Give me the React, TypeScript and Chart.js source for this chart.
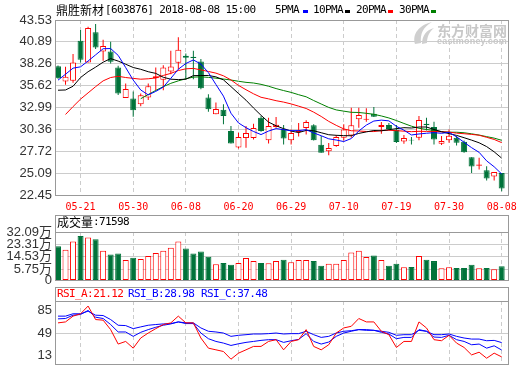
import React, { useEffect, useRef } from "react";
import { Chart, registerables } from "chart.js";

Chart.register(...registerables);

// ---------------- data ----------------
const DATES = [
  "05-16", "05-17", "05-18", "05-21", "05-22", "05-23", "05-24", "05-25", "05-28", "05-29",
  "05-30", "05-31", "06-01", "06-04", "06-05", "06-06", "06-07", "06-08", "06-11", "06-12",
  "06-13", "06-14", "06-15", "06-19", "06-20", "06-21", "06-22", "06-25", "06-26", "06-27",
  "06-28", "06-29", "07-02", "07-03", "07-04", "07-05", "07-06", "07-09", "07-10", "07-11",
  "07-12", "07-13", "07-16", "07-17", "07-18", "07-19", "07-20", "07-23", "07-24", "07-25",
  "07-26", "07-27", "07-30", "07-31", "08-01", "08-02", "08-03", "08-06", "08-07", "08-08",
];
const TICK_IDX = [3, 10, 17, 24, 31, 38, 45, 52, 59];

const OPEN = [
  37.97, 36.12, 36.2, 41.04, 38.42, 42.04, 39.75, 39.75, 37.81, 34.14,
  34.06, 33.38, 34.18, 36.52, 36.32, 37.33, 38.37, 39.22, 39.1, 38.54,
  34.18, 32.17, 32.73, 30.15, 28.18, 29.31, 29.31, 31.76, 29.06, 30.64,
  30.43, 29.06, 30.03, 30.51, 30.84, 28.5, 27.73, 28.34, 29.35, 29.63,
  31.56, 31.52, 32.25, 30.64, 30.88, 30.31, 28.9, 29.1, 29.35, 31.04,
  30.64, 28.62, 29.06, 29.35, 28.86, 27.01, 25.96, 25.44, 24.67, 25.11,
];
const HIGH = [
  38.05, 37.89, 39.42, 42.32, 42.73, 43.05, 41.16, 40.91, 38.01, 35.88,
  34.91, 34.67, 35.88, 37.81, 38.09, 39.83, 41.44, 39.5, 39.83, 38.82,
  34.59, 33.58, 33.38, 30.76, 29.95, 30.76, 31.04, 31.97, 31.76, 31.85,
  30.88, 30.35, 31.12, 31.44, 30.96, 29.55, 28.7, 29.67, 30.96, 32.97,
  32.97, 32.89, 33.05, 31.24, 31.12, 30.88, 29.67, 29.43, 31.97, 31.76,
  31.28, 29.55, 30.35, 29.55, 29.02, 27.01, 26.93, 25.92, 25.23, 25.11,
];
const LOW = [
  36.45, 35.72, 35.96, 38.42, 38.42, 40.03, 38.62, 38.29, 34.51, 34.14,
  31.89, 33.14, 33.9, 35.07, 35.07, 37.0, 37.61, 36.4, 36.4, 35.19,
  32.49, 32.17, 30.96, 28.66, 28.05, 28.14, 29.14, 30.07, 28.66, 30.56,
  28.54, 28.54, 29.51, 29.75, 29.02, 27.53, 27.25, 28.26, 29.02, 29.35,
  30.56, 31.28, 31.85, 29.83, 30.31, 28.7, 28.62, 28.54, 29.06, 30.23,
  28.54, 28.46, 28.74, 28.42, 27.53, 25.11, 25.52, 24.19, 24.19, 22.9,
];
const CLOSE = [
  36.52, 36.68, 38.42, 38.74, 42.57, 40.23, 40.39, 38.5, 34.67, 35.23,
  32.65, 34.47, 35.55, 36.76, 37.81, 37.93, 39.95, 38.98, 38.94, 35.31,
  32.77, 32.81, 31.97, 28.66, 29.43, 29.91, 30.51, 30.15, 30.76, 30.92,
  29.27, 29.91, 30.19, 31.24, 29.06, 27.53, 28.1, 29.43, 30.35, 30.84,
  32.09, 31.64, 31.89, 30.88, 30.39, 28.82, 29.31, 29.02, 31.48, 30.84,
  29.14, 28.94, 29.59, 28.74, 27.61, 25.88, 26.12, 24.43, 25.23, 23.22,
];
const MA5 = [
  36.28, 37.0, 37.73, 37.89, 38.59, 39.33, 40.07, 40.09, 39.27, 37.8,
  36.29, 35.1, 34.51, 34.93, 35.45, 36.5, 37.6, 38.29, 38.72, 38.22,
  37.19, 35.76, 34.36, 32.3, 31.13, 30.56, 30.1, 29.73, 30.15, 30.45,
  30.32, 30.2, 30.21, 30.31, 29.93, 29.59, 29.22, 29.07, 28.89, 29.25,
  30.16, 30.87, 31.36, 31.47, 31.38, 30.72, 30.26, 29.68, 29.8, 29.89,
  29.96, 29.88, 30.0, 29.45, 28.8, 28.15, 27.59, 26.56, 25.85, 24.98,
];
const MA10 = [
  35.07, 35.1, 35.55, 36.6, 37.3, 37.85, 38.45, 38.88, 38.58, 38.2,
  37.81, 37.59, 37.3, 37.1, 36.63, 36.4, 36.35, 36.4, 36.83, 36.84,
  36.85, 36.68, 36.32, 35.51, 34.68, 33.87, 32.93, 32.05, 31.23, 30.79,
  30.44, 30.15, 29.97, 30.23, 30.19, 29.95, 29.71, 29.64, 29.6, 29.59,
  29.87, 30.05, 30.22, 30.18, 30.31, 30.44, 30.56, 30.52, 30.64, 30.64,
  30.34, 30.07, 29.84, 29.63, 29.35, 29.06, 28.74, 28.28, 27.65, 26.89,
];
const MA20 = [
  null, 32.15, 33.1, 34.0, 34.75, 35.5, 36.2, 36.6, 36.75, 36.6,
  36.5, 36.4, 36.45, 36.55, 36.85, 37.1, 37.44, 37.65, 37.7, 37.52,
  37.33, 37.13, 36.81, 36.31, 35.65, 35.13, 34.64, 34.22, 34.03, 33.81,
  33.64, 33.42, 33.15, 32.87, 32.43, 31.91, 31.32, 30.84, 30.41, 30.19,
  30.16, 30.1, 30.09, 30.21, 30.25, 30.2, 30.14, 30.08, 30.12, 30.11,
  30.11, 30.06, 30.03, 29.9, 29.83, 29.75, 29.65, 29.4, 29.14, 28.76,
];
const MA30 = [
  null, null, null, null, null, null, null, null, null, null,
  null, 34.05, 34.55, 35.05, 35.5, 35.9, 36.2, 36.45, 36.65, 36.68,
  36.62, 36.52, 36.42, 36.3, 36.15, 36.02, 35.94, 35.78, 35.55, 35.27,
  35.03, 34.81, 34.53, 34.28, 33.83, 33.41, 33.0, 32.7, 32.55, 32.41,
  32.39, 32.29, 32.17, 31.97, 31.73, 31.42, 31.07, 30.74, 30.49, 30.34,
  30.22, 30.09, 30.01, 30.01, 29.95, 29.82, 29.67, 29.48, 29.3, 29.04,
];
// volume in 万 (10k lots)
const VOLUME = [
  21.9, 19.4, 25.3, 29.2, 28.2, 27.0, 18.7, 16.0, 16.7, 12.1,
  13.8, 12.8, 15.0, 17.2, 18.7, 20.9, 25.3, 20.4, 16.7, 18.2,
  14.5, 9.2, 10.1, 8.7, 10.1, 13.6, 11.4, 10.1, 9.9, 11.4,
  12.3, 10.6, 12.1, 12.1, 11.4, 8.0, 9.4, 9.4, 12.1, 17.5,
  18.7, 14.3, 15.3, 12.1, 8.0, 9.4, 7.0, 7.2, 15.0, 12.3,
  11.4, 6.2, 7.0, 6.5, 6.5, 8.7, 6.2, 6.5, 5.5, 7.7,
];
const RSI_A = [
  60.0, 61.1, 67.7, 70.4, 79.2, 63.8, 63.1, 52.3, 35.8, 38.8,
  31.1, 42.7, 48.4, 53.4, 58.1, 60.0, 67.7, 60.0, 60.0, 42.7,
  31.1, 29.2, 27.3, 18.5, 25.4, 29.2, 33.1, 33.1, 38.8, 40.8,
  29.2, 38.8, 40.8, 52.3, 33.1, 29.2, 35.0, 48.4, 54.2, 56.1,
  65.0, 61.1, 61.1, 50.4, 46.5, 31.9, 38.8, 38.8, 61.1, 54.2,
  40.8, 39.6, 45.8, 36.9, 31.9, 23.4, 26.5, 19.6, 25.4, 21.12,
];
const RSI_B = [
  64.6, 65.0, 68.8, 69.6, 74.2, 66.5, 65.0, 58.1, 49.6, 49.6,
  44.6, 49.2, 52.3, 55.0, 57.3, 58.8, 61.1, 59.2, 59.2, 48.4,
  41.9, 38.8, 36.9, 34.2, 36.1, 37.7, 38.8, 40.0, 40.8, 40.8,
  37.7, 39.6, 41.1, 47.7, 38.8, 35.8, 38.1, 44.6, 48.4, 50.4,
  52.3, 52.3, 51.5, 49.2, 47.3, 41.9, 43.4, 43.4, 52.3, 50.4,
  43.8, 43.4, 45.8, 40.8, 38.8, 35.0, 35.8, 31.1, 33.8, 28.98,
];
const RSI_C = [
  67.7, 67.7, 70.4, 70.4, 73.4, 68.8, 68.4, 63.8, 57.3, 56.9,
  53.4, 55.4, 57.3, 58.1, 58.8, 59.2, 61.1, 60.0, 60.0, 54.2,
  50.4, 49.6, 48.4, 44.6, 45.8, 46.5, 47.3, 47.3, 47.7, 48.4,
  47.3, 47.7, 47.7, 50.4, 46.5, 43.4, 44.6, 48.4, 50.4, 51.1,
  52.3, 51.5, 51.5, 50.4, 49.2, 45.8, 46.5, 46.5, 51.5, 50.4,
  46.5, 46.5, 47.3, 44.6, 42.7, 41.5, 41.5, 39.6, 40.0, 37.48,
];
const PRICE_TICKS = [22.45, 25.09, 27.72, 30.36, 32.99, 35.62, 38.26, 40.89, 43.53];
const VOL_FLOOR = -2.08; // value at panel bottom (labelled "0")
const VOL_TICKS = [VOL_FLOOR, 5.75, 14.53, 23.31, 32.09];
const RSI_TICKS = [13, 49, 85];

// ---------------- styles ----------------
const GRID = "#cccccc";
const BORDER = "#999999";
const UP = "#ff0000";
const DOWN = "#00733a";
const MONO = "'DejaVu Sans Mono', monospace";
const CJK = "'Noto Sans CJK SC', sans-serif";
const LABEL_FONT = { family: "'Liberation Sans', 'Noto Sans CJK SC', sans-serif", size: 13 };
const X_MIN = -0.4;
const X_MAX = 59.84;

const UP_FLAGS = CLOSE.map((c, i) => c >= OPEN[i]);
const candleColor = UP_FLAGS.map((u) => (u ? UP : DOWN));
const hollowFill = UP_FLAGS.map((u) => (u ? "#ffffff" : DOWN));

const boxPlugin = {
  id: "panelBox",
  afterDraw(chart: any, _args: any, opts: any) {
    const { ctx, chartArea: a } = chart;
    const th = (opts && opts.titleH) || 0;
    const l = Math.round(a.left) + 0.5;
    const r = Math.round(a.right) + 0.5;
    const t = Math.round(a.top) + 0.5;
    const b = Math.round(a.bottom) + 0.5;
    ctx.save();
    ctx.strokeStyle = BORDER;
    ctx.lineWidth = 1;
    ctx.setLineDash([]);
    ctx.strokeRect(l, t - th, r - l, b - (t - th));
    if (th) {
      ctx.beginPath();
      ctx.moveTo(l, t);
      ctx.lineTo(r, t);
      ctx.stroke();
    }
    ctx.restore();
  },
};

const xAxis = (showLabels: boolean) => ({
  type: "linear",
  min: X_MIN,
  max: X_MAX,
  bounds: "data",
  offset: false,
  grid: { color: GRID, drawTicks: false, offset: false },
  border: { display: false, dash: [4, 3] },
  afterBuildTicks: (s: any) => {
    s.ticks = TICK_IDX.map((v) => ({ value: v }));
  },
  ticks: {
    display: showLabels,
    autoSkip: false,
    maxRotation: 0,
    minRotation: 0,
    padding: 6,
    color: UP,
    font: { family: MONO, size: 10 },
    callback: (v: number) => DATES[v] ?? "",
  },
  afterFit: (s: any) => {
    s.height = showLabels ? 20 : 0;
    s.paddingLeft = 0;
    s.paddingRight = 0;
  },
});

const yAxis = (min: number, max: number, ticks: number[], fmt: (v: number) => string, grid: any) => ({
  type: "linear",
  position: "left",
  min,
  max,
  bounds: "data",
  afterBuildTicks: (s: any) => {
    s.ticks = ticks.map((v) => ({ value: v }));
  },
  grid: { color: grid, drawTicks: false },
  border: { display: false },
  ticks: { autoSkip: false, padding: 3, color: "#333333", font: LABEL_FONT, callback: fmt },
  afterFit: (s: any) => {
    s.width = 55;
    s.paddingTop = 0;
    s.paddingBottom = 0;
  },
});

const commonOptions = (padding: any, titleH: number) => ({
  responsive: false,
  animation: false,
  devicePixelRatio: 1,
  events: [],
  layout: { padding },
  plugins: { legend: { display: false }, tooltip: { enabled: false }, panelBox: { titleH } },
});

const line = (arr: (number | null)[], color: string, extra: any = {}) => ({
  type: "line",
  data: arr.map((v, i) => ({ x: i, y: v })),
  borderColor: color,
  borderWidth: 1,
  pointRadius: 0,
  tension: 0,
  fill: false,
  spanGaps: false,
  ...extra,
});

const mainConfig = () => ({
  type: "bar",
  data: {
    datasets: [
      line(MA5, "#0000ff"),
      line(MA10, "#000000"),
      line(MA20, "#ff0000"),
      line(MA30, "#008000"),
      {
        type: "bar",
        data: OPEN.map((o, i) => ({ x: i, y: [Math.min(o, CLOSE[i]), Math.max(o, CLOSE[i])] })),
        backgroundColor: hollowFill,
        borderColor: candleColor,
        borderWidth: 1,
        borderSkipped: false,
        grouped: false,
        barThickness: 6,
        maxBarThickness: 6,
        inflateAmount: 0,
      },
      {
        type: "bar",
        data: LOW.map((l, i) => ({ x: i, y: [l, HIGH[i]] })),
        backgroundColor: candleColor,
        borderWidth: 0,
        grouped: false,
        barThickness: 1,
        maxBarThickness: 1,
        inflateAmount: 0,
      },
    ],
  },
  options: {
    ...commonOptions({ top: 20, right: 12, bottom: 0, left: 0 }, 0),
    scales: {
      x: xAxis(true),
      y: yAxis(22.45, 43.53, PRICE_TICKS, (v) => Number(v).toFixed(2), GRID),
    },
  },
  plugins: [boxPlugin],
});

const volConfig = () => ({
  type: "bar",
  data: {
    datasets: [
      {
        type: "bar",
        data: VOLUME.map((v, i) => ({ x: i, y: [VOL_FLOOR, v] })),
        backgroundColor: hollowFill,
        borderColor: candleColor,
        borderWidth: 1,
        borderSkipped: false,
        grouped: false,
        barThickness: 6,
        maxBarThickness: 6,
        inflateAmount: 0,
      },
    ],
  },
  options: {
    ...commonOptions({ top: 19, right: 12, bottom: 6, left: 0 }, 17),
    scales: {
      x: xAxis(false),
      y: yAxis(VOL_FLOOR, 32.09, VOL_TICKS, (v) => (v <= VOL_FLOOR + 0.001 ? "0" : Number(v).toFixed(2) + "万"), GRID),
    },
  },
  plugins: [boxPlugin],
});

const rsiConfig = () => ({
  type: "bar",
  data: {
    datasets: [
      line(RSI_A, "#ff0000", { yAxisID: "y" }),
      line(RSI_B, "#0000ff", { yAxisID: "y" }),
      line(RSI_C, "#0000ff", { yAxisID: "y" }),
    ],
  },
  options: {
    ...commonOptions({ top: 16, right: 12, bottom: 1, left: 0 }, 14),
    scales: {
      x: xAxis(false),
      yl: yAxis(0, 100, RSI_TICKS, (v) => String(v), (c: any) =>
        c.tick && c.tick.value === 49 ? GRID : "rgba(0,0,0,0)"
      ),
      y: { type: "linear", display: false, min: 13, max: 85 },
    },
  },
  plugins: [boxPlugin],
});

function ChartCanvas({ top, height, make }: { top: number; height: number; make: () => any }) {
  const ref = useRef<HTMLCanvasElement>(null);
  useEffect(() => {
    const chart = new Chart(ref.current as HTMLCanvasElement, make());
    return () => chart.destroy();
  }, []);
  return (
    <canvas
      ref={ref}
      width={520}
      height={height}
      style={{ position: "absolute", left: 0, top, width: 520, height, display: "block" }}
    />
  );
}

function T({
  x, y, children, color = "#000000", font = MONO, size = 11, ls = "-0.6px", weight = 400,
}: any) {
  return (
    <div
      style={{
        position: "absolute", left: x, top: y - 8, height: 16, lineHeight: "16px",
        fontFamily: font, fontSize: size, letterSpacing: ls, color, whiteSpace: "nowrap", fontWeight: weight,
      }}
    >
      {children}
    </div>
  );
}

function Swatch({ x, color }: { x: number; color: string }) {
  return <div style={{ position: "absolute", left: x, top: 10, width: 5, height: 3, background: color }} />;
}

export default function App() {
  return (
    <div style={{ position: "fixed", left: 0, top: 0, width: 520, height: 365, background: "#ffffff", overflow: "hidden" }}>
      <ChartCanvas top={0} height={215} make={mainConfig} />
      <ChartCanvas top={213} height={73} make={volConfig} />
      <ChartCanvas top={285} height={80} make={rsiConfig} />

      <T x={56} y={10} font={CJK} size={12} ls="0px">鼎胜新材</T>
      <T x={105} y={10}>[603876] 2018-08-08 15:00</T>

      <T x={275} y={10}>5PMA</T>
      <Swatch x={303} color="#0000ff" />
      <T x={313} y={10}>10PMA</T>
      <Swatch x={345} color="#000000" />
      <T x={356} y={10}>20PMA</T>
      <Swatch x={388} color="#ff0000" />
      <T x={399} y={10}>30PMA</T>
      <Swatch x={431} color="#008000" />

      <svg style={{ position: "absolute", left: 411, top: 21 }} width={24} height={24}>
        <path d="M4 23 C 1 13, 8 4, 21 1 C 12 6, 9 13, 10 22 Z" fill="#cfcfcf" />
        <path d="M11 23 C 11 15, 15 9, 23 7 C 18 11, 16 16, 16 22 Z" fill="#cfcfcf" />
      </svg>
      <T x={437} y={30} font={CJK} size={14} ls="0px" weight={700} color="#c8c8c8">东方财富网</T>
      <T x={437} y={41} font="'Liberation Sans', sans-serif" size={9} ls="0.2px" weight={700} color="#c8c8c8">eastmoney.com</T>

      <T x={57} y={222} font={CJK} size={12} ls="0px">成交量</T>
      <T x={93} y={222}>:71598</T>

      <T x={57} y={294} color="#ff0000">RSI_A:21.12</T>
      <T x={128} y={294} color="#0000ff">RSI_B:28.98</T>
      <T x={201} y={294} color="#0000ff">RSI_C:37.48</T>
    </div>
  );
}
